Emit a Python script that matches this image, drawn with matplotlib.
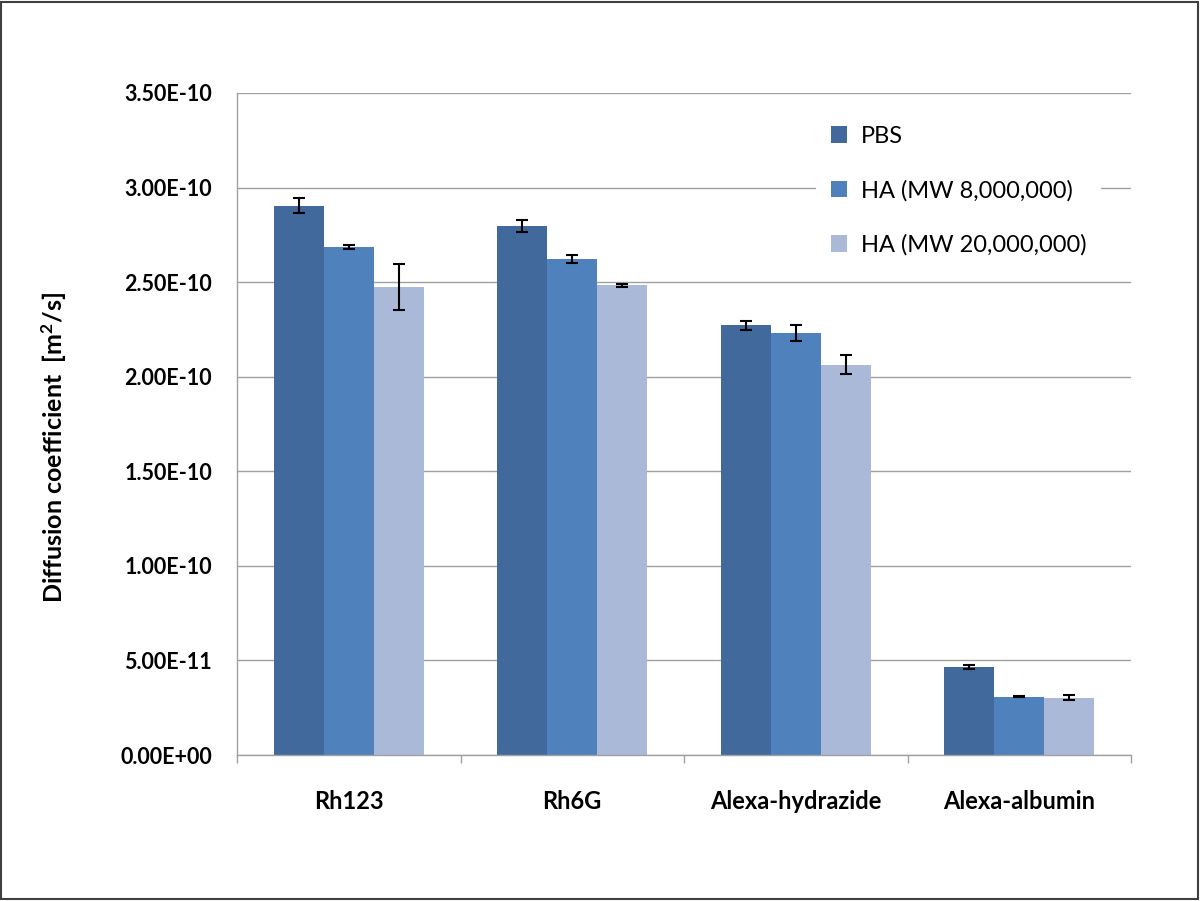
import numpy as np
import matplotlib.pyplot as plt
from matplotlib.patches import Rectangle

plt.rcParams['font.family'] = ['Lato', 'DejaVu Sans']

# data (m^2/s, in units of 1e-10)
categories = ['Rh123', 'Rh6G', 'Alexa-hydrazide', 'Alexa-albumin']
series = ['PBS', 'HA (MW 8,000,000)', 'HA (MW 20,000,000)']
pbs = [2.905, 2.797, 2.271, 0.466]
ha8 = [2.686, 2.622, 2.231, 0.309]
ha20 = [2.475, 2.484, 2.063, 0.303]
pbs_err = [0.04, 0.03, 0.025, 0.01]
ha8_err = [0.01, 0.02, 0.04, 0.003]
ha20_err = [0.12, 0.008, 0.05, 0.012]
yticks = [0, 0.5, 1.0, 1.5, 2.0, 2.5, 3.0, 3.5]
ytick_labels = ['0.00E+00', '5.00E-11', '1.00E-10', '1.50E-10', '2.00E-10',
                '2.50E-10', '3.00E-10', '3.50E-10']

colors = ['#41699B', '#4F81BD', '#AAB9D7']
barWidth = 0.224

fig = plt.figure(figsize=(12, 9.01), dpi=100)
ax = fig.add_axes([0.1975, 0.162, 0.7450, 0.7348])

x = np.arange(len(categories))
vals = [pbs, ha8, ha20]
errs = [pbs_err, ha8_err, ha20_err]
for i in range(3):
    ax.bar(x + (i - 1) * barWidth, np.array(vals[i]) * 1e-10, width=barWidth,
           color=colors[i], label=series[i], zorder=2,
           yerr=np.array(errs[i]) * 1e-10,
           error_kw=dict(ecolor='black', elinewidth=1.5, capsize=4, capthick=1.5))

ax.set_xlim(-0.5, len(categories) - 0.5)
ax.set_ylim(0, 3.5e-10)
ax.set_yticks(np.array(yticks) * 1e-10)
ax.set_yticklabels(ytick_labels, fontsize=15.5, fontweight='bold')
ax.set_xticks(x)
ax.set_xticklabels(categories, fontsize=17, fontweight='bold')
ax.tick_params(axis='y', length=0, pad=18)
ax.tick_params(axis='x', length=0, pad=25)
# tick marks between categories
ax.set_xticks(np.arange(len(categories) + 1) - 0.5, minor=True)
ax.tick_params(axis='x', which='minor', length=6, color='#A0A0A0', width=1)

ax.grid(axis='y', color='#A0A0A0', linewidth=1, zorder=0)
for s in ['top', 'right']:
    ax.spines[s].set_visible(False)
for s in ['left', 'bottom']:
    ax.spines[s].set_color('#A0A0A0')
    ax.spines[s].set_linewidth(1)

fig.text(0.045, 0.503, 'Diffusion coefficient  [m$\\mathregular{^2}$/s]', fontsize=18,
         fontweight='bold', rotation=90, ha='center', va='center')

leg = ax.legend(loc='upper left', bbox_to_anchor=(0.635, 0.99), fontsize=17,
                frameon=True, facecolor='white', edgecolor='none', framealpha=1,
                handlelength=0.7, handleheight=0.7, handletextpad=0.6,
                labelspacing=1.4, borderpad=0.6, fancybox=False)
leg.set_zorder(3)

fig.patches.append(Rectangle((0.001, 0.002), 0.997, 0.996, transform=fig.transFigure,
                             fill=False, edgecolor='#404040', linewidth=1.5))

plt.savefig('out.png', dpi=100)
